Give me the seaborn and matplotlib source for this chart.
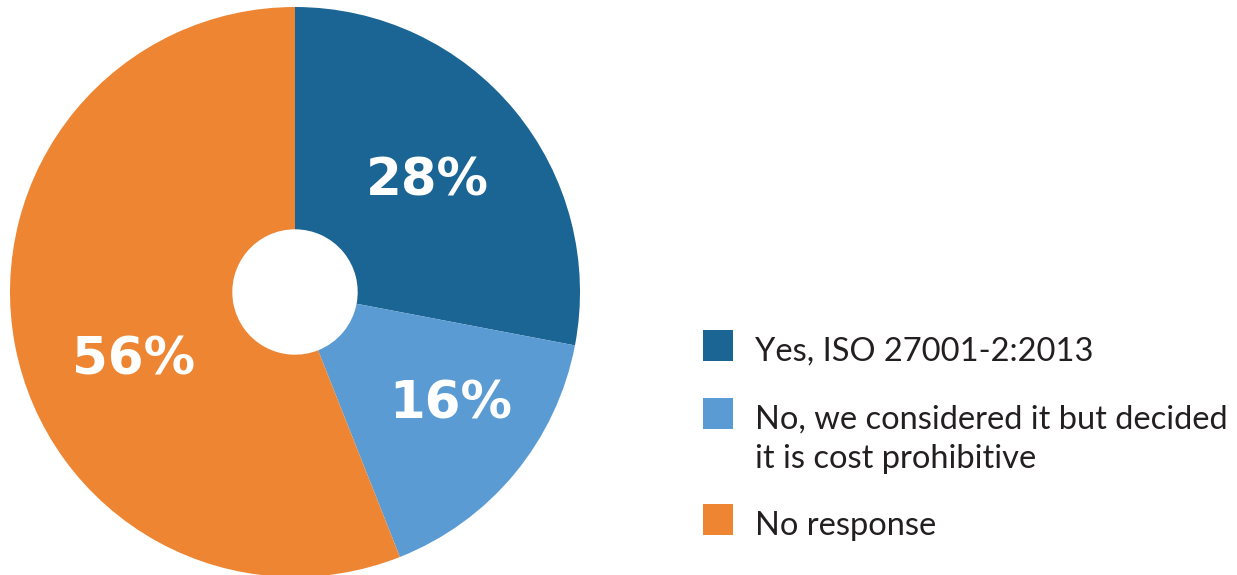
import matplotlib
matplotlib.use("Agg")
import matplotlib.pyplot as plt
from matplotlib.patches import Rectangle
import seaborn as sns
import numpy as np

# 데이터
labels = ["Yes, ISO 27001-2:2013",
          "No, we considered it but decided\nit is cost prohibitive",
          "No response"]
values = [28, 16, 56]
colors = ["#1b6595", "#5a9bd4", "#ed8532"]

sns.set_theme(style="white")
plt.rcParams['font.family'] = ['Lato', 'DejaVu Sans']

fig = plt.figure(figsize=(12.37, 5.75), dpi=100)
ax = fig.add_axes([10 / 1237, -2 / 575, 570 / 1237, 570 / 575])

wedges, _ = ax.pie(values, colors=colors, startangle=90, counterclock=False,
                   radius=1, wedgeprops=dict(width=0.78, linewidth=0))
ax.set_xlim(-1, 1)
ax.set_ylim(-1, 1)
ax.set_aspect('equal')
ax.axis('off')

# 퍼센트 라벨 (중심 기준 위치)
label_pos = [(0.466, 0.386), (0.545, -0.396), (-0.568, -0.239)]
for v, (x, y) in zip(values, label_pos):
    ax.text(x, y, f"{v}%", ha='center', va='center', color='white',
            fontsize=37, fontweight='bold', family=['DejaVu Sans'])

# 범례 (픽셀 좌표 축)
lax = fig.add_axes([0, 0, 1, 1], zorder=-1)
lax.set_xlim(0, 1237)
lax.set_ylim(575, 0)
lax.axis('off')

box_top = [330, 398, 504]
for lab, c, top in zip(labels, colors, box_top):
    lax.add_patch(Rectangle((703, top), 30, 31, color=c, linewidth=0))
    for i, line in enumerate(lab.split('\n')):
        lax.text(755, top + 31 + i * 39, line, ha='left', va='baseline',
                 fontsize=23.5, color='#231f20')

fig.savefig("out.png", dpi=100, facecolor='white')
